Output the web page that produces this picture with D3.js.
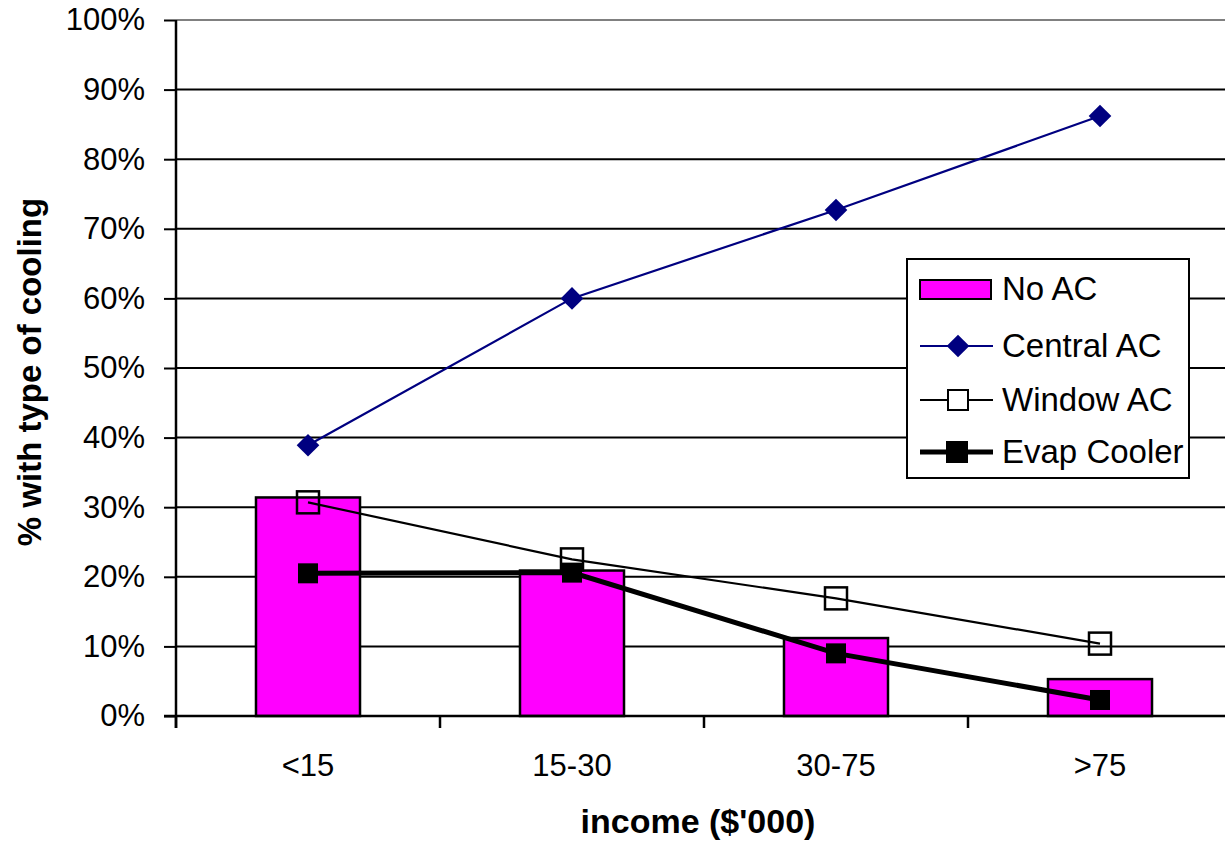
<!DOCTYPE html>
<html>
<head>
<meta charset="utf-8">
<script src="https://cdn.jsdelivr.net/npm/d3@7"></script>
<style>
  html, body { margin: 0; padding: 0; background: #fff; }
  svg { display: block; font-family: "Liberation Sans", Arial, sans-serif; }
</style>
</head>
<body>
<svg id="chart" width="1225" height="846"></svg>
<script>
// Income groups ($'000) and share of households with each type of cooling
const categories = ["<15", "15-30", "30-75", ">75"];
const noAC      = [0.314, 0.209, 0.112, 0.053];
const centralAC = [0.389, 0.600, 0.727, 0.862];
const windowAC  = [0.307, 0.225, 0.169, 0.104];
const evapCooler = [0.205, 0.206, 0.090, 0.023];
const yTicks = [0, 0.1, 0.2, 0.3, 0.4, 0.5, 0.6, 0.7, 0.8, 0.9, 1.0];

const svg = d3.select("#chart");
const plotLeft = 176, plotRight = 1232, plotTop = 20, plotBottom = 716;

const x = d3.scaleBand().domain(categories).range([plotLeft, plotRight]).padding(0);
const y = d3.scaleLinear().domain([0, 1]).range([plotBottom, plotTop]);
const cx = d => x(d) + x.bandwidth() / 2;
const barW = x.bandwidth() * 0.394;

// horizontal gridlines
svg.append("g").selectAll("line").data(yTicks).join("line")
  .attr("x1", plotLeft).attr("x2", 1225)
  .attr("y1", d => y(d)).attr("y2", d => y(d))
  .attr("stroke", d => d === 1 ? "#808080" : "#000")
  .attr("stroke-width", 2);

// y axis
const yAxis = d3.axisLeft(y).tickValues(yTicks).tickFormat(d3.format(".0%"))
  .tickSize(12).tickPadding(19);
const gy = svg.append("g").attr("transform", `translate(${plotLeft},0)`).call(yAxis);
gy.select(".domain").remove();
gy.selectAll(".tick line").attr("stroke", "#000").attr("stroke-width", 2);
gy.selectAll(".tick text").attr("font-size", 31).attr("fill", "#000")
  .attr("font-family", "Liberation Sans, Arial, sans-serif");
svg.append("line").attr("x1", plotLeft).attr("x2", plotLeft).attr("y1", plotTop).attr("y2", plotBottom + 12)
  .attr("stroke", "#000").attr("stroke-width", 2.5);

// bars
svg.append("g").selectAll("rect").data(categories).join("rect")
  .attr("x", d => cx(d) - barW / 2)
  .attr("width", barW)
  .attr("y", (d, i) => y(noAC[i]))
  .attr("height", (d, i) => y(0) - y(noAC[i]))
  .attr("fill", "#ff00ff").attr("stroke", "#000").attr("stroke-width", 2.5);

// x axis baseline and category dividers
svg.append("line").attr("x1", plotLeft - 12).attr("x2", 1225).attr("y1", plotBottom).attr("y2", plotBottom)
  .attr("stroke", "#000").attr("stroke-width", 2.5);
svg.append("g").selectAll("line").data(categories).join("line")
  .attr("x1", d => x(d)).attr("x2", d => x(d))
  .attr("y1", plotBottom).attr("y2", plotBottom + 12)
  .attr("stroke", "#000").attr("stroke-width", 2.5);
svg.append("g").selectAll("text").data(categories).join("text")
  .attr("x", d => cx(d)).attr("y", 776)
  .attr("text-anchor", "middle").attr("font-size", 31).text(d => d);

const line = d3.line().x((d, i) => cx(categories[i])).y(d => y(d));

// Central AC
svg.append("path").datum(centralAC).attr("d", line)
  .attr("fill", "none").attr("stroke", "#000080").attr("stroke-width", 2.2);
const diamond = d3.symbol().type(d3.symbolSquare).size(16 * 16);
svg.append("g").selectAll("path").data(centralAC).join("path")
  .attr("d", diamond)
  .attr("transform", (d, i) => `translate(${cx(categories[i])},${y(d)}) rotate(45)`)
  .attr("fill", "#000080");

// Window AC
svg.append("path").datum(windowAC).attr("d", line)
  .attr("fill", "none").attr("stroke", "#000").attr("stroke-width", 2.2);
svg.append("g").selectAll("rect").data(windowAC).join("rect")
  .attr("x", (d, i) => cx(categories[i]) - 11).attr("y", d => y(d) - 11)
  .attr("width", 22).attr("height", 22)
  .attr("fill", "none").attr("stroke", "#000").attr("stroke-width", 2.5);

// Evap Cooler
svg.append("path").datum(evapCooler).attr("d", line)
  .attr("fill", "none").attr("stroke", "#000").attr("stroke-width", 5);
svg.append("g").selectAll("rect").data(evapCooler).join("rect")
  .attr("x", (d, i) => cx(categories[i]) - 10).attr("y", d => y(d) - 10)
  .attr("width", 20).attr("height", 20).attr("fill", "#000");

// axis titles
svg.append("text").attr("x", 698).attr("y", 833).attr("text-anchor", "middle")
  .attr("font-size", 34).attr("font-weight", "bold").text("income ($'000)");
svg.append("text").attr("transform", "translate(41,372) rotate(-90)")
  .attr("text-anchor", "middle").attr("font-size", 33).attr("font-weight", "bold")
  .text("% with type of cooling");

// legend
const legend = svg.append("g");
legend.append("rect").attr("x", 907).attr("y", 259).attr("width", 282).attr("height", 219)
  .attr("fill", "#fff").attr("stroke", "#000").attr("stroke-width", 2);
const legendItems = [
  { name: "No AC", kind: "bar" },
  { name: "Central AC", kind: "diamond" },
  { name: "Window AC", kind: "open" },
  { name: "Evap Cooler", kind: "filled" }
];
const rowY = [289, 346, 400, 452];
legendItems.forEach((it, i) => {
  const yy = rowY[i];
  if (it.kind === "bar") {
    legend.append("rect").attr("x", 920).attr("y", yy - 9).attr("width", 71).attr("height", 19)
      .attr("fill", "#ff00ff").attr("stroke", "#000").attr("stroke-width", 2);
  } else {
    const col = it.kind === "diamond" ? "#000080" : "#000";
    const sw = it.kind === "filled" ? 5 : 2.2;
    legend.append("line").attr("x1", 920).attr("x2", 993).attr("y1", yy).attr("y2", yy)
      .attr("stroke", col).attr("stroke-width", sw);
    if (it.kind === "diamond") {
      legend.append("path").attr("d", diamond)
        .attr("transform", `translate(958,${yy}) rotate(45)`).attr("fill", col);
    } else if (it.kind === "open") {
      legend.append("rect").attr("x", 948).attr("y", yy - 10).attr("width", 20).attr("height", 20)
        .attr("fill", "#fff").attr("stroke", "#000").attr("stroke-width", 2);
    } else {
      legend.append("rect").attr("x", 946).attr("y", yy - 11).attr("width", 22).attr("height", 22)
        .attr("fill", "#000");
    }
  }
  legend.append("text").attr("x", 1002).attr("y", yy + 11).attr("font-size", 33).text(it.name);
});
</script>
</body>
</html>
